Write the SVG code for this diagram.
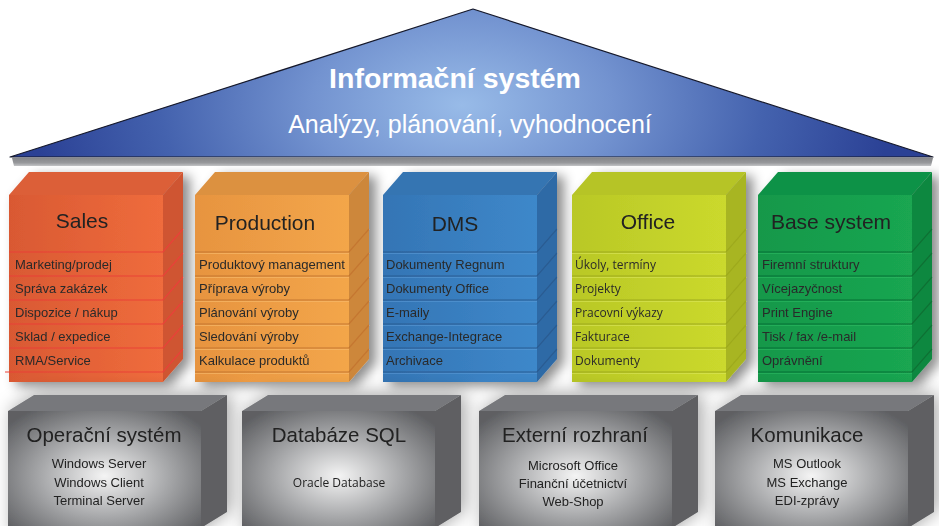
<svg xmlns="http://www.w3.org/2000/svg" width="939" height="526" viewBox="0 0 939 526">
<style>
.hdr{font-family:"Liberation Sans",Arial,sans-serif;font-size:21px;fill:#222;text-anchor:middle}
.row{font-family:"Liberation Sans",Arial,sans-serif;font-size:13px;fill:#2a2a2a}
.rowm{font-family:"Open Sans","Liberation Sans",sans-serif;font-size:12px;fill:#2a2a2a}
.bh{font-family:"Liberation Sans",Arial,sans-serif;font-size:20.5px;fill:#222;text-anchor:middle}
.bi{font-family:"Liberation Sans",Arial,sans-serif;font-size:13px;fill:#222;text-anchor:middle}
.bim{font-family:"Open Sans","Liberation Sans",sans-serif;font-size:12px;fill:#222;text-anchor:middle}
.gtop{fill:#77787b}
.gside{fill:#5e5f62}
.gfront{fill:url(#gFront)}
</style>
<defs>
<radialGradient id="roofG" gradientUnits="userSpaceOnUse" cx="462" cy="105" r="430" gradientTransform="translate(462 105) scale(1 0.6) translate(-462 -105)">
<stop offset="0" stop-color="#98bbe8"/>
<stop offset="0.35" stop-color="#7393d0"/>
<stop offset="0.7" stop-color="#4462ae"/>
<stop offset="1" stop-color="#2b4195"/>
</radialGradient>
<linearGradient id="barG" x1="0" y1="0" x2="0" y2="1">
<stop offset="0" stop-color="#86878a"/>
<stop offset="0.6" stop-color="#97989b"/>
<stop offset="1" stop-color="#c4c5c7"/>
</linearGradient>
<radialGradient id="gFront" cx="0.5" cy="0.52" r="0.65">
<stop offset="0" stop-color="#f4f4f4"/>
<stop offset="0.5" stop-color="#a8a9ab"/>
<stop offset="1" stop-color="#5e5f62"/>
</radialGradient>
<linearGradient id="fSales" x1="0" y1="0" x2="1" y2="0"><stop offset="0" stop-color="#d95933"/><stop offset="1" stop-color="#ef6c3c"/></linearGradient>
<linearGradient id="fProd" x1="0" y1="0" x2="1" y2="0"><stop offset="0" stop-color="#e79440"/><stop offset="1" stop-color="#f3a64a"/></linearGradient>
<linearGradient id="fDms" x1="0" y1="0" x2="1" y2="0"><stop offset="0" stop-color="#3475b5"/><stop offset="1" stop-color="#3e88ca"/></linearGradient>
<linearGradient id="fOff" x1="0" y1="0" x2="1" y2="0"><stop offset="0" stop-color="#b9c826"/><stop offset="1" stop-color="#cbd92d"/></linearGradient>
<linearGradient id="fBase" x1="0" y1="0" x2="1" y2="0"><stop offset="0" stop-color="#12984a"/><stop offset="1" stop-color="#1aa651"/></linearGradient>
<filter id="sh" x="-20%" y="-20%" width="150%" height="150%">
<feDropShadow dx="7" dy="4" stdDeviation="6" flood-color="#000" flood-opacity="0.45"/>
</filter>
<filter id="shg" x="-20%" y="-30%" width="150%" height="160%">
<feDropShadow dx="4" dy="-2" stdDeviation="9" flood-color="#000" flood-opacity="0.35"/>
</filter>
</defs>
<rect width="939" height="526" fill="#fff"/>

<g id="roof">
<polygon points="12,158 933,158 931,166 14,166" fill="url(#barG)"/>
<polygon points="10,157 473,9 933,157" fill="url(#roofG)" stroke="#15182a" stroke-width="1.2" stroke-linejoin="round"/>
<text x="455" y="88" text-anchor="middle" font-family="'Liberation Sans',Arial,sans-serif" font-size="28.5" font-weight="bold" fill="#fff">Informační systém</text>
<text x="470" y="133" text-anchor="middle" font-family="'Liberation Sans',Arial,sans-serif" font-size="25" fill="#fff">Analýzy, plánování, vyhodnocení</text>
</g>

<g id="sales" filter="url(#sh)">
<polygon points="9,195 29,172 183,172 163,195" fill="#dc5e38"/>
<polygon points="163,195 183,172 183,359 163,382" fill="#cf5530"/>
<rect x="9" y="195" width="154" height="187" fill="url(#fSales)"/>
<g stroke="#ea4139" stroke-width="1.2" fill="none">
<path d="M9 252H163L183 229M9 276H163L183 253M9 300H163L183 277M9 324H163L183 301M9 348H163L183 325M5 372H163L183 349"/>
</g>
<text class="hdr" x="82" y="228">Sales</text>
<text class="row" x="15" y="269">Marketing/prodej</text>
<text class="row" x="15" y="293">Správa zakázek</text>
<text class="row" x="15" y="317">Dispozice / nákup</text>
<text class="row" x="15" y="341">Sklad / expedice</text>
<text class="row" x="15" y="365">RMA/Service</text>
</g>

<g id="production" filter="url(#sh)">
<polygon points="195,195 215,172 369,172 349,195" fill="#dc9140"/>
<polygon points="349,195 369,172 369,359 349,382" fill="#cd873b"/>
<rect x="195" y="195" width="154" height="187" fill="url(#fProd)"/>
<g stroke="#c47630" stroke-width="1.2" fill="none">
<path d="M195 252H349L369 229M195 276H349L369 253M195 300H349L369 277M195 324H349L369 301M195 348H349L369 325M195 372H349L369 349"/>
</g>
<g stroke="#f6b868" stroke-width="1" fill="none" opacity="0.7">
<path d="M195 253.5H349M195 277.5H349M195 301.5H349M195 325.5H349M195 349.5H349M195 373.5H349"/>
</g>
<text class="hdr" x="265" y="230">Production</text>
<text class="row" x="199" y="269" textLength="146" lengthAdjust="spacingAndGlyphs">Produktový management</text>
<text class="row" x="199" y="293">Příprava výroby</text>
<text class="row" x="199" y="317">Plánování výroby</text>
<text class="row" x="199" y="341">Sledování výroby</text>
<text class="row" x="199" y="365">Kalkulace produktů</text>
</g>

<g id="dms" filter="url(#sh)">
<polygon points="383,195 403,172 557,172 537,195" fill="#3574b2"/>
<polygon points="537,195 557,172 557,359 537,382" fill="#2f6aa6"/>
<rect x="383" y="195" width="154" height="187" fill="url(#fDms)"/>
<g stroke="#2a5c92" stroke-width="1.2" fill="none">
<path d="M383 252H537L557 229M383 276H537L557 253M383 300H537L557 277M383 324H537L557 301M383 348H537L557 325M383 372H537L557 349"/>
</g>
<g stroke="#5a9ad6" stroke-width="1" fill="none" opacity="0.6">
<path d="M383 253.5H537M383 277.5H537M383 301.5H537M383 325.5H537M383 349.5H537M383 373.5H537"/>
</g>
<text class="hdr" x="455" y="231">DMS</text>
<text class="row" x="386" y="269">Dokumenty Regnum</text>
<text class="row" x="386" y="293">Dokumenty Office</text>
<text class="row" x="386" y="317">E-maily</text>
<text class="row" x="386" y="341">Exchange-Integrace</text>
<text class="row" x="386" y="365">Archivace</text>
</g>

<g id="office" filter="url(#sh)">
<polygon points="572,195 592,172 746,172 726,195" fill="#b6c426"/>
<polygon points="726,195 746,172 746,359 726,382" fill="#a8b522"/>
<rect x="572" y="195" width="154" height="187" fill="url(#fOff)"/>
<g stroke="#9eaa1e" stroke-width="1.2" fill="none">
<path d="M572 252H726L746 229M572 276H726L746 253M572 300H726L746 277M572 324H726L746 301M572 348H726L746 325M572 372H726L746 349"/>
</g>
<g stroke="#dbe65a" stroke-width="1" fill="none" opacity="0.6">
<path d="M572 253.5H726M572 277.5H726M572 301.5H726M572 325.5H726M572 349.5H726M572 373.5H726"/>
</g>
<text class="hdr" x="648" y="229">Office</text>
<text class="rowm" x="575" y="269">Úkoly, termíny</text>
<text class="rowm" x="575" y="293">Projekty</text>
<text class="rowm" x="575" y="317">Pracovní výkazy</text>
<text class="rowm" x="575" y="341">Fakturace</text>
<text class="rowm" x="575" y="365">Dokumenty</text>
</g>

<g id="base-system" filter="url(#sh)">
<polygon points="758,195 778,172 932,172 912,195" fill="#119247"/>
<polygon points="912,195 932,172 932,359 912,382" fill="#0f8840"/>
<rect x="758" y="195" width="154" height="187" fill="url(#fBase)"/>
<g stroke="#0b7134" stroke-width="1.2" fill="none">
<path d="M758 252H912L932 229M758 276H912L932 253M758 300H912L932 277M758 324H912L932 301M758 348H912L932 325M758 372H912L932 349"/>
</g>
<g stroke="#2fbb62" stroke-width="1" fill="none" opacity="0.6">
<path d="M758 253.5H912M758 277.5H912M758 301.5H912M758 325.5H912M758 349.5H912M758 373.5H912"/>
</g>
<text class="hdr" x="831" y="229">Base system</text>
<text class="row" x="762" y="269">Firemní struktury</text>
<text class="row" x="762" y="293">Vícejazyčnost</text>
<text class="row" x="762" y="317">Print Engine</text>
<text class="row" x="762" y="341">Tisk / fax /e-mail</text>
<text class="row" x="762" y="365">Oprávnění</text>
</g>

<g id="operacni-system" filter="url(#shg)">
<polygon class="gtop" points="8,411 34,395 227,395 201,411"/>
<polygon class="gside" points="201,411 227,395 227,512 201,528"/>
<rect class="gfront" x="8" y="411" width="193" height="125"/>
<text class="bh" x="104" y="442">Operační systém</text>
<text class="bi" x="99" y="468">Windows Server</text>
<text class="bi" x="99" y="487">Windows Client</text>
<text class="bi" x="99" y="505">Terminal Server</text>
</g>

<g id="databaze-sql" filter="url(#shg)">
<polygon class="gtop" points="242,411 268,395 461,395 435,411"/>
<polygon class="gside" points="435,411 461,395 461,512 435,528"/>
<rect class="gfront" x="242" y="411" width="193" height="125"/>
<text class="bh" x="339" y="442">Databáze SQL</text>
<text class="bim" x="339" y="487">Oracle Database</text>
</g>

<g id="externi-rozhrani" filter="url(#shg)">
<polygon class="gtop" points="479,411 505,395 698,395 672,411"/>
<polygon class="gside" points="672,411 698,395 698,512 672,528"/>
<rect class="gfront" x="479" y="411" width="193" height="125"/>
<text class="bh" x="575" y="442">Externí rozhraní</text>
<text class="bi" x="573" y="470">Microsoft Office</text>
<text class="bi" x="573" y="488">Finanční účetnictví</text>
<text class="bi" x="573" y="506">Web-Shop</text>
</g>

<g id="komunikace" filter="url(#shg)">
<polygon class="gtop" points="715,411 741,395 934,395 908,411"/>
<polygon class="gside" points="908,411 934,395 934,512 908,528"/>
<rect class="gfront" x="715" y="411" width="193" height="125"/>
<text class="bh" x="807" y="442">Komunikace</text>
<text class="bi" x="807" y="468">MS Outlook</text>
<text class="bi" x="807" y="487">MS Exchange</text>
<text class="bi" x="807" y="505">EDI-zprávy</text>
</g>
</svg>
